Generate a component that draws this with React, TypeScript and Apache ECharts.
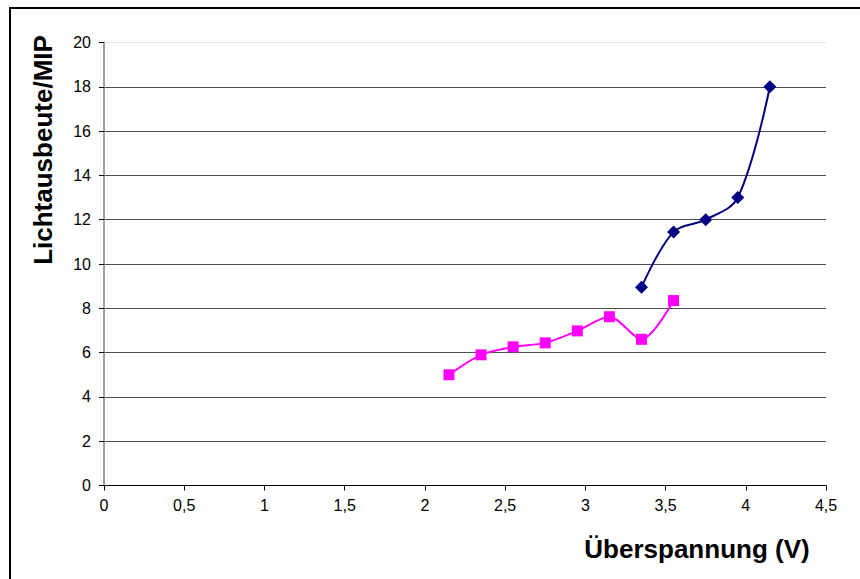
import React, { useEffect, useRef } from "react";
import * as echarts from "echarts";

const pinkX = [2.15, 2.35, 2.55, 2.75, 2.95, 3.15, 3.35, 3.55];
const pinkY = [5.0, 5.9, 6.26, 6.44, 6.98, 7.62, 6.6, 8.35];
const blueX = [3.35, 3.55, 3.75, 3.95, 4.15];
const blueY = [8.95, 11.45, 12.0, 13.0, 18.0];
const yTicks = [0, 2, 4, 6, 8, 10, 12, 14, 16, 18, 20];

const FONT = "Liberation Sans, Arial, sans-serif";

export default function App() {
  const ref = useRef<HTMLDivElement>(null);
  useEffect(() => {
    if (!ref.current) return;
    const chart = echarts.init(ref.current, null, { renderer: "svg" });
    const splitColors = yTicks.map((v) => (v === 20 ? "#e4e4e4" : "#505050"));
    chart.setOption({
      animation: false,
      backgroundColor: "#ffffff",
      grid: { left: 104, right: 34, top: 42.5, bottom: 93.5 },
      xAxis: {
        type: "value",
        min: 0,
        max: 4.5,
        interval: 0.5,
        axisLine: { show: true, onZero: false, lineStyle: { color: "#000000", width: 1 } },
        axisTick: { show: true, inside: false, length: 5, lineStyle: { color: "#000000" } },
        splitLine: { show: false },
        axisLabel: {
          margin: 12,
          fontFamily: FONT,
          fontSize: 16,
          color: "#000000",
          formatter: (v: number) => String(v).replace(".", ","),
        },
      },
      yAxis: {
        type: "value",
        min: 0,
        max: 20,
        interval: 2,
        axisLine: { show: true, lineStyle: { color: "#808080", width: 1.5 } },
        axisTick: { show: true, inside: false, length: 5, lineStyle: { color: "#000000" } },
        splitLine: { show: true, lineStyle: { color: splitColors, width: 1 } },
        axisLabel: {
          margin: 13,
          fontFamily: FONT,
          fontSize: 16,
          color: "#000000",
        },
      },
      series: [
        {
          type: "line",
          data: pinkX.map((x, i) => [x, pinkY[i]]),
          smooth: 0.3,
          symbol: "rect",
          symbolSize: 11,
          itemStyle: { color: "#ff00ff" },
          lineStyle: { color: "#ff00ff", width: 2 },
          z: 3,
        },
        {
          type: "line",
          data: blueX.map((x, i) => [x, blueY[i]]),
          smooth: 0.35,
          symbol: "diamond",
          symbolSize: 13,
          itemStyle: { color: "#000080" },
          lineStyle: { color: "#000080", width: 2 },
          z: 4,
        },
      ],
      graphic: [
        {
          type: "rect",
          shape: { x: 10, y: 8, width: 880, height: 600 },
          style: { fill: "none", stroke: "#000000", lineWidth: 2 },
          silent: true,
        },
        {
          type: "text",
          x: 43,
          y: 150,
          rotation: Math.PI / 2,
          style: {
            text: "Lichtausbeute/MIP",
            font: "bold 26px " + FONT,
            fill: "#000000",
            align: "center",
            verticalAlign: "middle",
          },
        },
        {
          type: "text",
          x: 697,
          y: 549,
          style: {
            text: "Überspannung (V)",
            font: "bold 26px " + FONT,
            fill: "#000000",
            align: "center",
            verticalAlign: "middle",
          },
        },
      ],
    });
    return () => chart.dispose();
  }, []);
  return (
    <div
      ref={ref}
      style={{ position: "fixed", left: 0, top: 0, width: 860, height: 579 }}
    />
  );
}
